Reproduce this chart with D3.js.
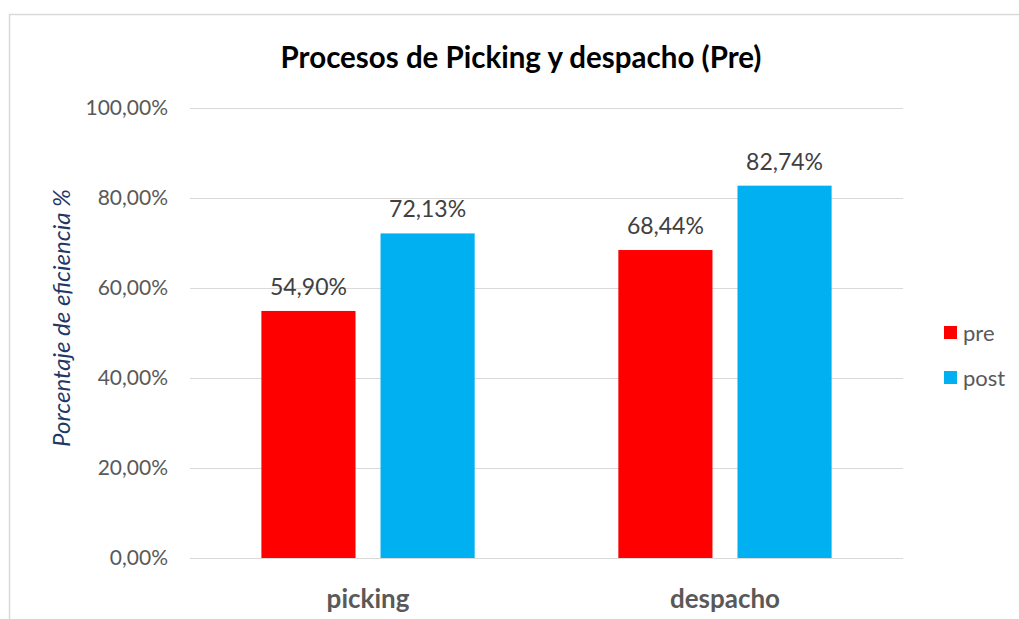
<!DOCTYPE html>
<html>
<head>
<meta charset="utf-8">
<script src="https://cdn.jsdelivr.net/npm/d3@7"></script>
<style>
  body { margin: 0; background: #fff; }
  text { font-family: Lato, 'Open Sans', sans-serif; }
</style>
</head>
<body>
<div id="chart-area"></div>
<script>
'use strict';

let categories = ['picking', 'despacho'];
let series = ['pre', 'post'];
let preValues = [54.90, 68.44];
let postValues = [72.13, 82.74];
let yTicks = [0, 20, 40, 60, 80, 100];
let colours = ['#ff0000', '#00b0f0'];

function fmt(v) {
    return v.toFixed(2).replace('.', ',') + '%';
}

draw();

function draw() {
    let svg = d3.select('#chart-area').append('svg')
        .attr('width', 1019)
        .attr('height', 619);

    // chart frame (cut off right and bottom)
    svg.append('path')
        .attr('d', 'M9.5,619 V14.5 H1019')
        .attr('fill', 'none')
        .attr('stroke', '#d9d9d9')
        .attr('stroke-width', 1.5);

    let x0 = d3.scaleBand()
        .domain(categories)
        .range([190, 903])
        .paddingInner(0.4025)
        .paddingOuter(0.2);

    let x1 = d3.scaleBand()
        .domain(series)
        .range([0, x0.bandwidth()])
        .paddingInner(0.21);

    let y = d3.scaleLinear()
        .domain([0, 100])
        .range([558, 108]);

    let colour = d3.scaleOrdinal()
        .domain(series)
        .range(colours);

    // gridlines
    svg.append('g')
        .selectAll('line')
        .data(yTicks)
        .enter()
        .append('line')
            .attr('x1', 190)
            .attr('x2', 903)
            .attr('y1', (d) => y(d) + 0.5)
            .attr('y2', (d) => y(d) + 0.5)
            .attr('stroke', '#d9d9d9')
            .attr('stroke-width', 1);

    // y tick labels
    svg.append('g')
        .selectAll('text')
        .data(yTicks)
        .enter()
        .append('text')
            .attr('x', 168)
            .attr('y', (d) => y(d))
            .attr('dy', '0.35em')
            .attr('text-anchor', 'end')
            .attr('font-size', 21)
            .attr('fill', '#595959')
            .text((d) => fmt(d));

    let rows = categories.map((c, i) => ({cat: c, values: [preValues[i], postValues[i]]}));

    let groups = svg.selectAll('g.cat')
        .data(rows)
        .enter()
        .append('g')
            .attr('class', 'cat')
            .attr('transform', (d) => 'translate(' + x0(d.cat) + ',0)');

    let bars = groups.selectAll('rect')
        .data((d) => d.values.map((v, j) => ({s: series[j], v: v})))
        .enter();

    bars.append('rect')
        .attr('x', (d) => x1(d.s))
        .attr('y', (d) => y(d.v))
        .attr('width', x1.bandwidth())
        .attr('height', (d) => y(0) - y(d.v))
        .attr('fill', (d) => colour(d.s));

    bars.append('text')
        .attr('x', (d) => x1(d.s) + x1.bandwidth() / 2)
        .attr('y', (d) => y(d.v) - 16)
        .attr('text-anchor', 'middle')
        .attr('font-size', 23)
        .attr('fill', '#404040')
        .text((d) => fmt(d.v));

    // category labels
    svg.append('g')
        .selectAll('text')
        .data(categories)
        .enter()
        .append('text')
            .attr('x', (d) => x0(d) + x0.bandwidth() / 2)
            .attr('y', 608)
            .attr('text-anchor', 'middle')
            .attr('font-size', 26)
            .attr('font-weight', 'bold')
            .attr('fill', '#595959')
            .text((d) => d);

    // title
    svg.append('text')
        .attr('x', 521)
        .attr('y', 68)
        .attr('text-anchor', 'middle')
        .attr('font-size', 29.5)
        .attr('font-weight', 'bold')
        .attr('fill', '#000')
        .text('Procesos de Picking y despacho (Pre)');

    // y axis title
    svg.append('text')
        .attr('transform', 'translate(70,318) rotate(-90)')
        .attr('text-anchor', 'middle')
        .attr('font-size', 24)
        .attr('font-style', 'italic')
        .attr('fill', '#1f3864')
        .text('Porcentaje de eficiencia %');

    // legend
    let legend = svg.append('g')
        .selectAll('g')
        .data(series)
        .enter()
        .append('g')
            .attr('transform', (d, i) => 'translate(944,' + (326 + i * 45) + ')');

    legend.append('rect')
        .attr('width', 13)
        .attr('height', 13)
        .attr('fill', (d) => colour(d));

    legend.append('text')
        .attr('x', 19)
        .attr('y', 7)
        .attr('dy', '0.35em')
        .attr('font-size', 22)
        .attr('fill', '#595959')
        .text((d) => d);
}
</script>
</body>
</html>
